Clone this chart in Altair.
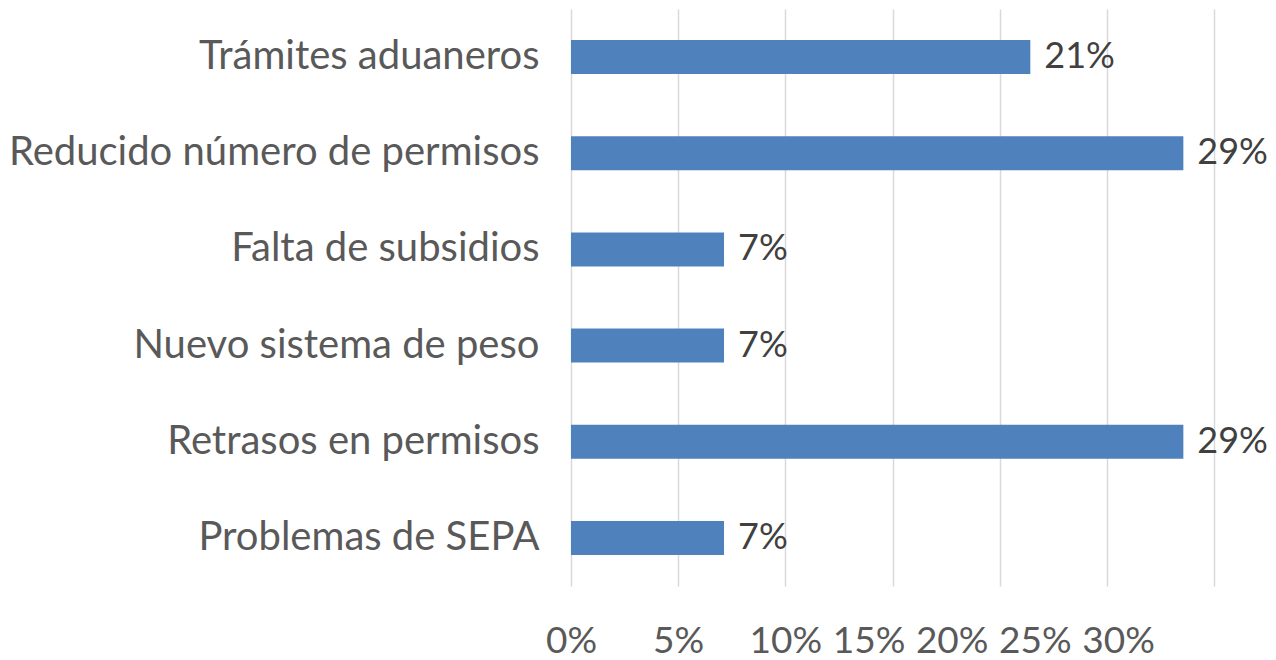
import altair as alt
import pandas as pd

categories = ["Trámites aduaneros", "Reducido número de permisos", "Falta de subsidios",
              "Nuevo sistema de peso", "Retrasos en permisos", "Problemas de SEPA"]
values = [0.2143, 0.2857, 0.0714, 0.0714, 0.2857, 0.0714]
tick_values = [0, 0.05, 0.10, 0.15, 0.20, 0.25, 0.30]

df = pd.DataFrame({"cat": categories, "val": values})

FONT = "Lato"

base = alt.Chart(df).encode(
    y=alt.Y("cat:N", sort=categories, title=None,
            scale=alt.Scale(paddingInner=0.646, paddingOuter=0.323),
            axis=alt.Axis(domain=False, ticks=False, labelFont=FONT, labelFontSize=40,
                          labelColor="#595959", labelPadding=32, labelLimit=700)),
    x=alt.X("val:Q", title=None,
            scale=alt.Scale(domain=[0, 0.30], nice=False),
            axis=alt.Axis(values=tick_values, format=".0%", domain=False, ticks=False,
                          grid=True, gridColor="#d9d9d9", gridWidth=1.5,
                          labelFont=FONT, labelFontSize=37, labelColor="#595959",
                          labelPadding=37, labelFlush=False, labelOverlap=False,
                          labelOffset={"expr": "datum.value >= 0.149 ? -(datum.value - 0.10) * 480 : 0"})),
)

bars = base.mark_bar(color="#4f81bd")
labels = base.mark_text(align="left", baseline="middle", dx=14, font=FONT, fontSize=36,
                        color="#404040").encode(text=alt.Text("val:Q", format=".0%"))

chart = (bars + labels).properties(
    width=643, height=577,
    padding={"left": 563, "top": 1, "right": 54, "bottom": 74},
    autosize="none",
).configure(background="white").configure_view(stroke=None, strokeWidth=0)

chart.save("out.html", embed_options={"renderer": "svg", "actions": False})
